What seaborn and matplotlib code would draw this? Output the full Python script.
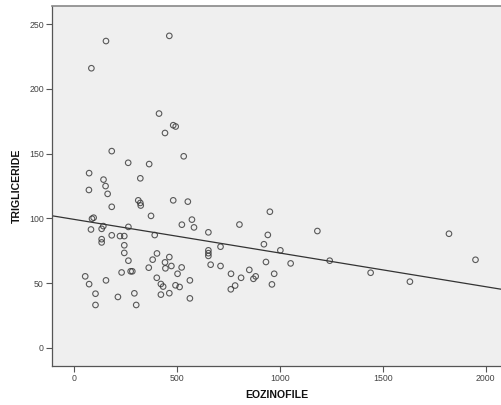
import matplotlib
matplotlib.use("Agg")
import matplotlib.pyplot as plt
import seaborn as sns
import pandas as pd

# Eosinophil counts and triglyceride levels per patient
eozinofile = [
    154, 462, 83, 412, 481, 493, 441, 182, 532, 262,
    364, 72, 142, 321, 152, 71, 162, 182, 311, 321,
    323, 481, 552, 373, 86, 94, 81, 133, 141, 133,
    133, 182, 222, 243, 243, 243, 263, 263, 230, 274,
    282, 154, 53, 72, 103, 103, 212, 292, 301, 391,
    402, 381, 362, 401, 421, 432, 421, 462, 441, 443,
    462, 472, 502, 522, 492, 512, 562, 562, 523, 572,
    582, 652, 652, 652, 652, 663, 711, 711, 762, 761,
    782, 811, 803, 851, 871, 882, 922, 941, 932, 951,
    961, 972, 1002, 1052, 1182, 1242, 1441, 1632, 1822, 1951,
]
trigliceride = [
    237, 241, 216, 181, 172, 171, 166, 152, 148, 143,
    142, 135, 130, 131, 125, 122, 119, 109, 114, 112,
    110, 114, 113, 102, 99.8, 100.6, 91.5, 92, 94.1, 84,
    81.5, 87, 86.4, 86.4, 79.3, 73.4, 93.5, 67.4, 58.3, 59.2,
    59.2, 52.2, 55.3, 49.3, 41.9, 33.2, 39.4, 42.2, 33.2, 87.2,
    73, 68.2, 62, 54.2, 49.4, 47.4, 41.2, 42.3, 66.1, 61.5,
    70.2, 63.3, 57.3, 62.2, 48.4, 47.1, 52.2, 38.3, 95.2, 99.1,
    93.1, 89.3, 75.4, 73.2, 71.1, 64.3, 78.2, 63.3, 57.3, 45.3,
    48.2, 54.2, 95.3, 60.3, 53.4, 55.3, 80.1, 87.3, 66.4, 105.2,
    49.1, 57.3, 75.4, 65.3, 90.3, 67.4, 58.1, 51.2, 88.2, 68.1,
]
x_ticks = [0, 500, 1000, 1500, 2000]
y_ticks = [0, 50, 100, 150, 200, 250]

df = pd.DataFrame({"EOZINOFILE": eozinofile, "TRIGLICERIDE": trigliceride})

sns.set_theme(style="white")
plt.rcParams["font.family"] = ["Liberation Sans", "DejaVu Sans"]

fig = plt.figure(figsize=(5.01, 4.05), dpi=100)
ax = fig.add_axes([0.104, 0.097, 0.896, 0.888])
ax.set_facecolor("#efefef")
ax.set_xlim(-108, 2075)
ax.set_ylim(-13.7, 264)

sns.regplot(
    data=df, x="EOZINOFILE", y="TRIGLICERIDE", ax=ax, ci=None, truncate=False,
    scatter_kws=dict(s=16, facecolors="none", edgecolors="#333333", linewidths=0.8),
    line_kws=dict(color="#333333", linewidth=0.9),
)

ax.set_xticks(x_ticks)
ax.set_yticks(y_ticks)
ax.tick_params(axis="both", direction="out", length=4, width=0.8, color="#555555",
               labelsize=6.3, labelcolor="#444444", pad=2,
               bottom=True, left=True)
for side in ("left", "bottom"):
    ax.spines[side].set_color("#555555")
    ax.spines[side].set_linewidth(0.9)
ax.spines["top"].set_color("#888888")
ax.spines["top"].set_linewidth(1.2)
ax.spines["right"].set_visible(False)

ax.set_xlabel("EOZINOFILE", fontsize=7.6, fontweight="bold", color="#111111", labelpad=5)
ax.set_ylabel("TRIGLICERIDE", fontsize=7.6, fontweight="bold", color="#111111", labelpad=5)

fig.savefig("out.png", dpi=100)
